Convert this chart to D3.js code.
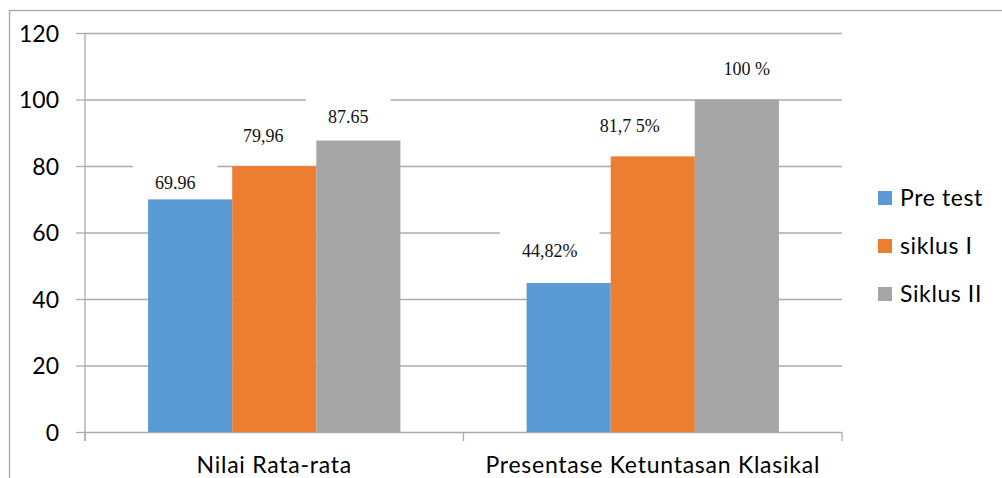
<!DOCTYPE html>
<html>
<head>
<meta charset="utf-8">
<script src="https://cdn.jsdelivr.net/npm/d3@7"></script>
<style>
  body { margin: 0; background: #fff; }
  svg { display: block; }
</style>
</head>
<body>
<svg></svg>
<script>
// chart data
let categories = ['Nilai Rata-rata', 'Presentase Ketuntasan Klasikal']
let seriesNames = ['Pre test', 'siklus I', 'Siklus II']
let seriesColors = ['#5B9BD5', '#ED7D31', '#A5A5A5']
let preTest = [69.96, 44.82]
let siklus1 = [79.96, 82.9]
let siklus2 = [87.65, 100]
let labelsPreTest = ['69.96', '44,82%']
let labelsSiklus1 = ['79,96', '81,7 5%']
let labelsSiklus2 = ['87.65', '100 %']
let yTicks = [0, 20, 40, 60, 80, 100, 120]

// hand placed label nudges (dx, dy above bar top), one per bar
let labelNudge = [
    [[-15, 10], [-19, 26]],
    [[-11, 24], [-23, 24]],
    [[-10, 18], [10, 25]]
]

let width = 1002
let height = 478
let plotLeft = 85
let plotRight = 842
let plotTop = 33
let plotBottom = 432

let sansFont = 'Lato, "Open Sans", sans-serif'
let serifFont = '"Liberation Serif", "DejaVu Serif", serif'

let svg = d3.select('svg')
            .attr('width', width)
            .attr('height', height)

// outer frame (runs past the picture on the right and bottom)
svg.append('rect')
   .attr('x', 9.5)
   .attr('y', 10.5)
   .attr('width', 1100)
   .attr('height', 600)
   .attr('fill', 'none')
   .attr('stroke', '#a6a6a6')
   .attr('stroke-width', 1.3)

let values = [preTest, siklus1, siklus2]
let labels = [labelsPreTest, labelsSiklus1, labelsSiklus2]

let rows = []
seriesNames.forEach((s, si) => {
    categories.forEach((c, ci) => {
        rows.push({
            series: s, cat: c, value: values[si][ci], label: labels[si][ci],
            color: seriesColors[si], nudge: labelNudge[si][ci]
        })
    })
})

let x0 = d3.scaleBand()
           .domain(categories)
           .range([plotLeft, plotRight])

let x1 = d3.scaleBand()
           .domain(seriesNames)
           .range([0, x0.bandwidth()])
           .paddingOuter(0.75)

let yScale = d3.scaleLinear()
               .domain([0, 120])
               .range([plotBottom, plotTop])

// gridlines
svg.append('g')
   .attr('transform', 'translate(' + plotLeft + ',0)')
   .call(d3.axisRight(yScale).tickValues(yTicks).tickSize(plotRight - plotLeft).tickFormat(''))
   .call(g => g.select('.domain').remove())
   .call(g => g.selectAll('line').attr('stroke', '#ababab').attr('stroke-width', 1.3))

// y axis ticks + labels
let yAxis = svg.append('g')
   .attr('transform', 'translate(' + plotLeft + ',0)')
   .call(d3.axisLeft(yScale).tickValues(yTicks).tickSize(9).tickPadding(17))
yAxis.select('.domain').remove()
yAxis.selectAll('line').attr('stroke', '#ababab').attr('stroke-width', 1.3)
yAxis.selectAll('text')
     .attr('font-family', sansFont)
     .attr('font-size', 23)
     .attr('fill', '#000')
     .attr('dy', '0.36em')

svg.append('line')
   .attr('x1', plotLeft).attr('x2', plotLeft)
   .attr('y1', plotTop).attr('y2', plotBottom + 9)
   .attr('stroke', '#ababab')
   .attr('stroke-width', 1.3)

// x axis: category separators + labels
let xAxis = svg.append('g')
   .attr('transform', 'translate(0,' + plotBottom + ')')
   .call(d3.axisBottom(x0).tickSize(0).tickPadding(25))
xAxis.select('.domain').remove()
xAxis.selectAll('text')
     .attr('font-family', sansFont)
     .attr('font-size', 23)
     .attr('letter-spacing', '0.75px')
     .attr('fill', '#000')

let seps = [plotLeft, ...categories.map(c => x0(c) + x0.bandwidth())]
svg.selectAll('.sep')
   .data(seps)
   .enter()
   .append('line')
   .attr('class', 'sep')
   .attr('x1', d => d).attr('x2', d => d)
   .attr('y1', plotBottom).attr('y2', plotBottom + 9)
   .attr('stroke', '#ababab')
   .attr('stroke-width', 1.3)

// label boxes hide the gridlines behind them
let labelG = svg.append('g')
let labelText = labelG.selectAll('text')
   .data(rows)
   .enter()
   .append('text')
   .attr('x', d => x0(d.cat) + x1(d.series) + x1.bandwidth() / 2 + d.nudge[0])
   .attr('y', d => yScale(d.value) - d.nudge[1])
   .attr('text-anchor', 'middle')
   .attr('font-family', serifFont)
   .attr('font-size', 18)
   .attr('fill', '#111')
   .text(d => d.label)

labelText.each(function (d) {
    let w = this.getComputedTextLength()
    let bx = +d3.select(this).attr('x')
    let by = +d3.select(this).attr('y')
    labelG.insert('rect', 'text')
          .attr('x', bx - w / 2 - 22)
          .attr('y', by - 28)
          .attr('width', w + 44)
          .attr('height', 38)
          .attr('fill', '#fff')
})

// bars
let barG = svg.append('g')
barG.selectAll('rect')
   .data(rows)
   .enter()
   .append('rect')
   .attr('x', d => x0(d.cat) + x1(d.series))
   .attr('y', d => yScale(d.value))
   .attr('width', x1.bandwidth())
   .attr('height', d => yScale(0) - yScale(d.value))
   .attr('fill', d => d.color)

// boxes under the bars, text on top
let boxG = svg.insert('g', () => barG.node())
labelG.selectAll('rect').each(function () { boxG.node().appendChild(this) })
labelG.raise()

// legend
let legend = svg.append('g')
   .selectAll('g')
   .data(seriesNames)
   .enter()
   .append('g')
   .attr('transform', (d, i) => 'translate(878,' + (206 + i * 48) + ')')

legend.append('rect')
      .attr('x', 0)
      .attr('y', -15)
      .attr('width', 14)
      .attr('height', 14)
      .attr('fill', (d, i) => seriesColors[i])

legend.append('text')
      .attr('x', 22)
      .attr('y', 0)
      .attr('font-family', sansFont)
      .attr('font-size', 23)
      .attr('letter-spacing', '0.6px')
      .attr('fill', '#000')
      .text(d => d)
</script>
</body>
</html>
